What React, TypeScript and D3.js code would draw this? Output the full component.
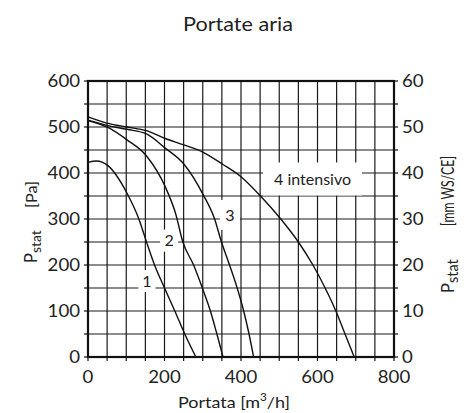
import React from 'react';
import * as d3 from 'd3';

// ---- data ----
const chartTitle = 'Portate aria';
const xTickValues = [0, 200, 400, 600, 800];
const yLeftTickValues = [0, 100, 200, 300, 400, 500, 600];
const yRightTickValues = [0, 10, 20, 30, 40, 50, 60];
const curveNames = ['1', '2', '3', '4 intensivo'];

const flow1 = [0, 22, 52, 102, 133, 153, 174, 200, 227, 253, 282];
const pres1 = [423, 426, 416, 356, 300, 250, 200, 150, 100, 50, 0];

const flow2 = [0, 52, 102, 153, 202, 229, 248, 276, 299, 320, 337, 353];
const pres2 = [514, 499, 472, 437, 370, 312, 250, 200, 150, 100, 50, 0];

const flow3 = [0, 52, 102, 153, 202, 251, 301, 331, 349, 370, 390, 407, 421, 433];
const pres3 = [515, 503, 495, 485, 454, 419, 353, 300, 250, 200, 150, 100, 50, 0];

const flow4 = [0, 52, 102, 153, 202, 251, 301, 352, 400, 451, 504, 550, 588, 620, 648, 672, 696];
const pres4 = [522, 508, 500, 492, 475, 461, 445, 419, 392, 350, 300, 250, 200, 150, 100, 50, 0];

// label anchors (data units: flow, pressure)
const labelFlow = [154, 212, 371, 587];
const labelPres = [165, 253, 309, 387];

const seriesFlows = [flow1, flow2, flow3, flow4];
const seriesPres = [pres1, pres2, pres3, pres4];

const FONT = 'Lato, "Open Sans", sans-serif';
const INK = '#222';

export default function App() {
  const W = 464;
  const H = 413;
  const left = 88, right = 394, top = 81, bottom = 357;

  const x = d3.scaleLinear().domain([0, 800]).range([left, right]);
  const y = d3.scaleLinear().domain([0, 600]).range([bottom, top]);
  const yR = d3.scaleLinear().domain([0, 60]).range([bottom, top]);

  const gridX = d3.range(50, 800, 50);
  const gridY = d3.range(50, 600, 50);
  const tickX = d3.range(0, 801, 50);
  const tickY = d3.range(0, 601, 50);

  const line = d3
    .line<[number, number]>()
    .x((d) => x(d[0]))
    .y((d) => y(d[1]))
    .curve(d3.curveMonotoneX);

  const labelW = [17, 18, 20, 99];
  const labelH = [22, 22, 30, 33];
  const digitW = 10.8;

  return (
    <svg
      width={W}
      height={H}
      style={{ position: 'absolute', left: 0, top: 0, background: '#fff' }}
      fontFamily={FONT}
    >
      <rect x={0} y={0} width={W} height={H} fill="#fff" />
      <text x={238} y={31} textAnchor="middle" fontSize={20} fill={INK} textLength={110} lengthAdjust="spacingAndGlyphs">
        {chartTitle}
      </text>

      {/* grid */}
      <g stroke="#1a1a1a" strokeWidth={1.2}>
        {gridX.map((v) => (
          <line key={'gx' + v} x1={x(v)} x2={x(v)} y1={top} y2={bottom} />
        ))}
        {gridY.map((v) => (
          <line key={'gy' + v} x1={left} x2={right} y1={y(v)} y2={y(v)} />
        ))}
      </g>

      {/* ticks */}
      <g stroke="#111" strokeWidth={1.2}>
        {tickX.map((v) => (
          <line key={'tx' + v} x1={x(v)} x2={x(v)} y1={bottom} y2={bottom + 4} />
        ))}
        {tickY.map((v) => (
          <line key={'tyl' + v} x1={left - 4} x2={left} y1={y(v)} y2={y(v)} />
        ))}
        {tickY.map((v) => (
          <line key={'tyr' + v} x1={right} x2={right + 4} y1={y(v)} y2={y(v)} />
        ))}
      </g>

      {/* frame */}
      <rect
        x={left}
        y={top}
        width={right - left}
        height={bottom - top}
        fill="none"
        stroke="#111"
        strokeWidth={2.2}
      />

      {/* label backgrounds */}
      {curveNames.map((n, i) => (
        <rect
          key={'lb' + i}
          x={x(labelFlow[i]) - labelW[i] / 2}
          y={y(labelPres[i]) - labelH[i] / 2}
          width={labelW[i]}
          height={labelH[i]}
          fill="#fff"
        />
      ))}

      {/* curves */}
      {seriesFlows.map((fl, i) => (
        <path
          key={'c' + i}
          d={line(fl.map((f, j) => [f, seriesPres[i][j]] as [number, number])) || ''}
          fill="none"
          stroke="#111"
          strokeWidth={1.4}
        />
      ))}

      {/* curve labels */}
      {curveNames.map((n, i) => (
        <text
          key={'lt' + i}
          x={x(labelFlow[i])}
          y={y(labelPres[i])}
          dy="0.36em"
          textAnchor="middle"
          fontSize={16}
          fill={INK}
        >
          {n}
        </text>
      ))}

      {/* x tick labels */}
      {xTickValues.map((v) => (
        <text key={'xl' + v} x={x(v)} y={383} textAnchor="middle" fontSize={16.5} fill={INK}
          textLength={String(v).length * digitW} lengthAdjust="spacingAndGlyphs">
          {v}
        </text>
      ))}
      {/* left tick labels */}
      {yLeftTickValues.map((v) => (
        <text key={'yl' + v} x={80} y={y(v)} dy="0.36em" textAnchor="end" fontSize={16.5} fill={INK}
          textLength={String(v).length * digitW} lengthAdjust="spacingAndGlyphs">
          {v}
        </text>
      ))}
      {/* right tick labels */}
      {yRightTickValues.map((v) => (
        <text key={'yr' + v} x={402} y={yR(v)} dy="0.36em" textAnchor="start" fontSize={16.5} fill={INK}
          textLength={String(v).length * digitW} lengthAdjust="spacingAndGlyphs">
          {v}
        </text>
      ))}

      {/* x axis title */}
      <text x={178} y={408} textAnchor="start" fontSize={16} fill={INK}
        textLength={112} lengthAdjust="spacingAndGlyphs">
        Portata [m
        <tspan fontSize={10.5} dy={-7}>3</tspan>
        <tspan dy={7}>/h]</tspan>
      </text>

      {/* left axis title */}
      <g transform="translate(37,0) rotate(-90)">
        <text x={-263} y={0} fontSize={16.5} fill={INK}>
          P<tspan fontSize={14} dy={3.5}>stat</tspan>
        </text>
        <text x={-208} y={0} fontSize={16} fill={INK} textLength={27} lengthAdjust="spacingAndGlyphs">
          [Pa]
        </text>
      </g>

      {/* right axis title */}
      <g transform="translate(454,0) rotate(-90)">
        <text x={-293} y={0} fontSize={16.5} fill={INK}>
          P<tspan fontSize={14.5} dy={3.5}>stat</tspan>
        </text>
        <text x={-226} y={0} fontSize={16.5} fill={INK} textLength={70} lengthAdjust="spacingAndGlyphs">
          [mm WS/CE]
        </text>
      </g>
    </svg>
  );
}
